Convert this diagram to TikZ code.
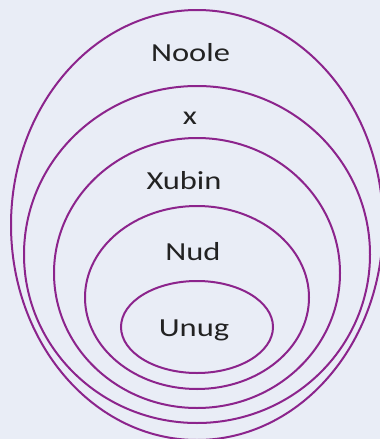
\documentclass[tikz,border=0pt]{standalone}
\usepackage{fontspec}
\setmainfont{Carlito}[FakeStretch=1.25]
\definecolor{bgc}{RGB}{233,237,246}
\definecolor{ring}{RGB}{140,36,140}
\definecolor{txt}{RGB}{34,34,34}
\begin{document}
\begin{tikzpicture}[x=1pt,y=-1pt,
  ringline/.style={draw=ring,line width=2pt},
  lbl/.style={inner sep=0pt,anchor=base,text=txt,font=\fontsize{26}{30}\selectfont}]
\fill[bgc] (0,0) rectangle (380,439);
\useasboundingbox (0,0) rectangle (380,439);
\begin{scope}
\clip (0,0) rectangle (380,439);
\draw[ringline] (197,225) ellipse [x radius=186, y radius=215];
\draw[ringline] (197,254.5) ellipse [x radius=173, y radius=168.5];
\draw[ringline] (197,273) ellipse [x radius=143, y radius=135];
\draw[ringline] (197,297.5) ellipse [x radius=112, y radius=91.5];
\draw[ringline] (197,327) ellipse [x radius=76, y radius=46];
\end{scope}
\node[lbl] (noole) at (190.5,61) {Noole};
\node[lbl] (x) at (190,124) {x};
\node[lbl] (xubin) at (184,189) {Xubin};
\node[lbl] (nud) at (193,260) {Nud};
\node[lbl] (unug) at (194,336) {Unug};
\end{tikzpicture}
\end{document}
